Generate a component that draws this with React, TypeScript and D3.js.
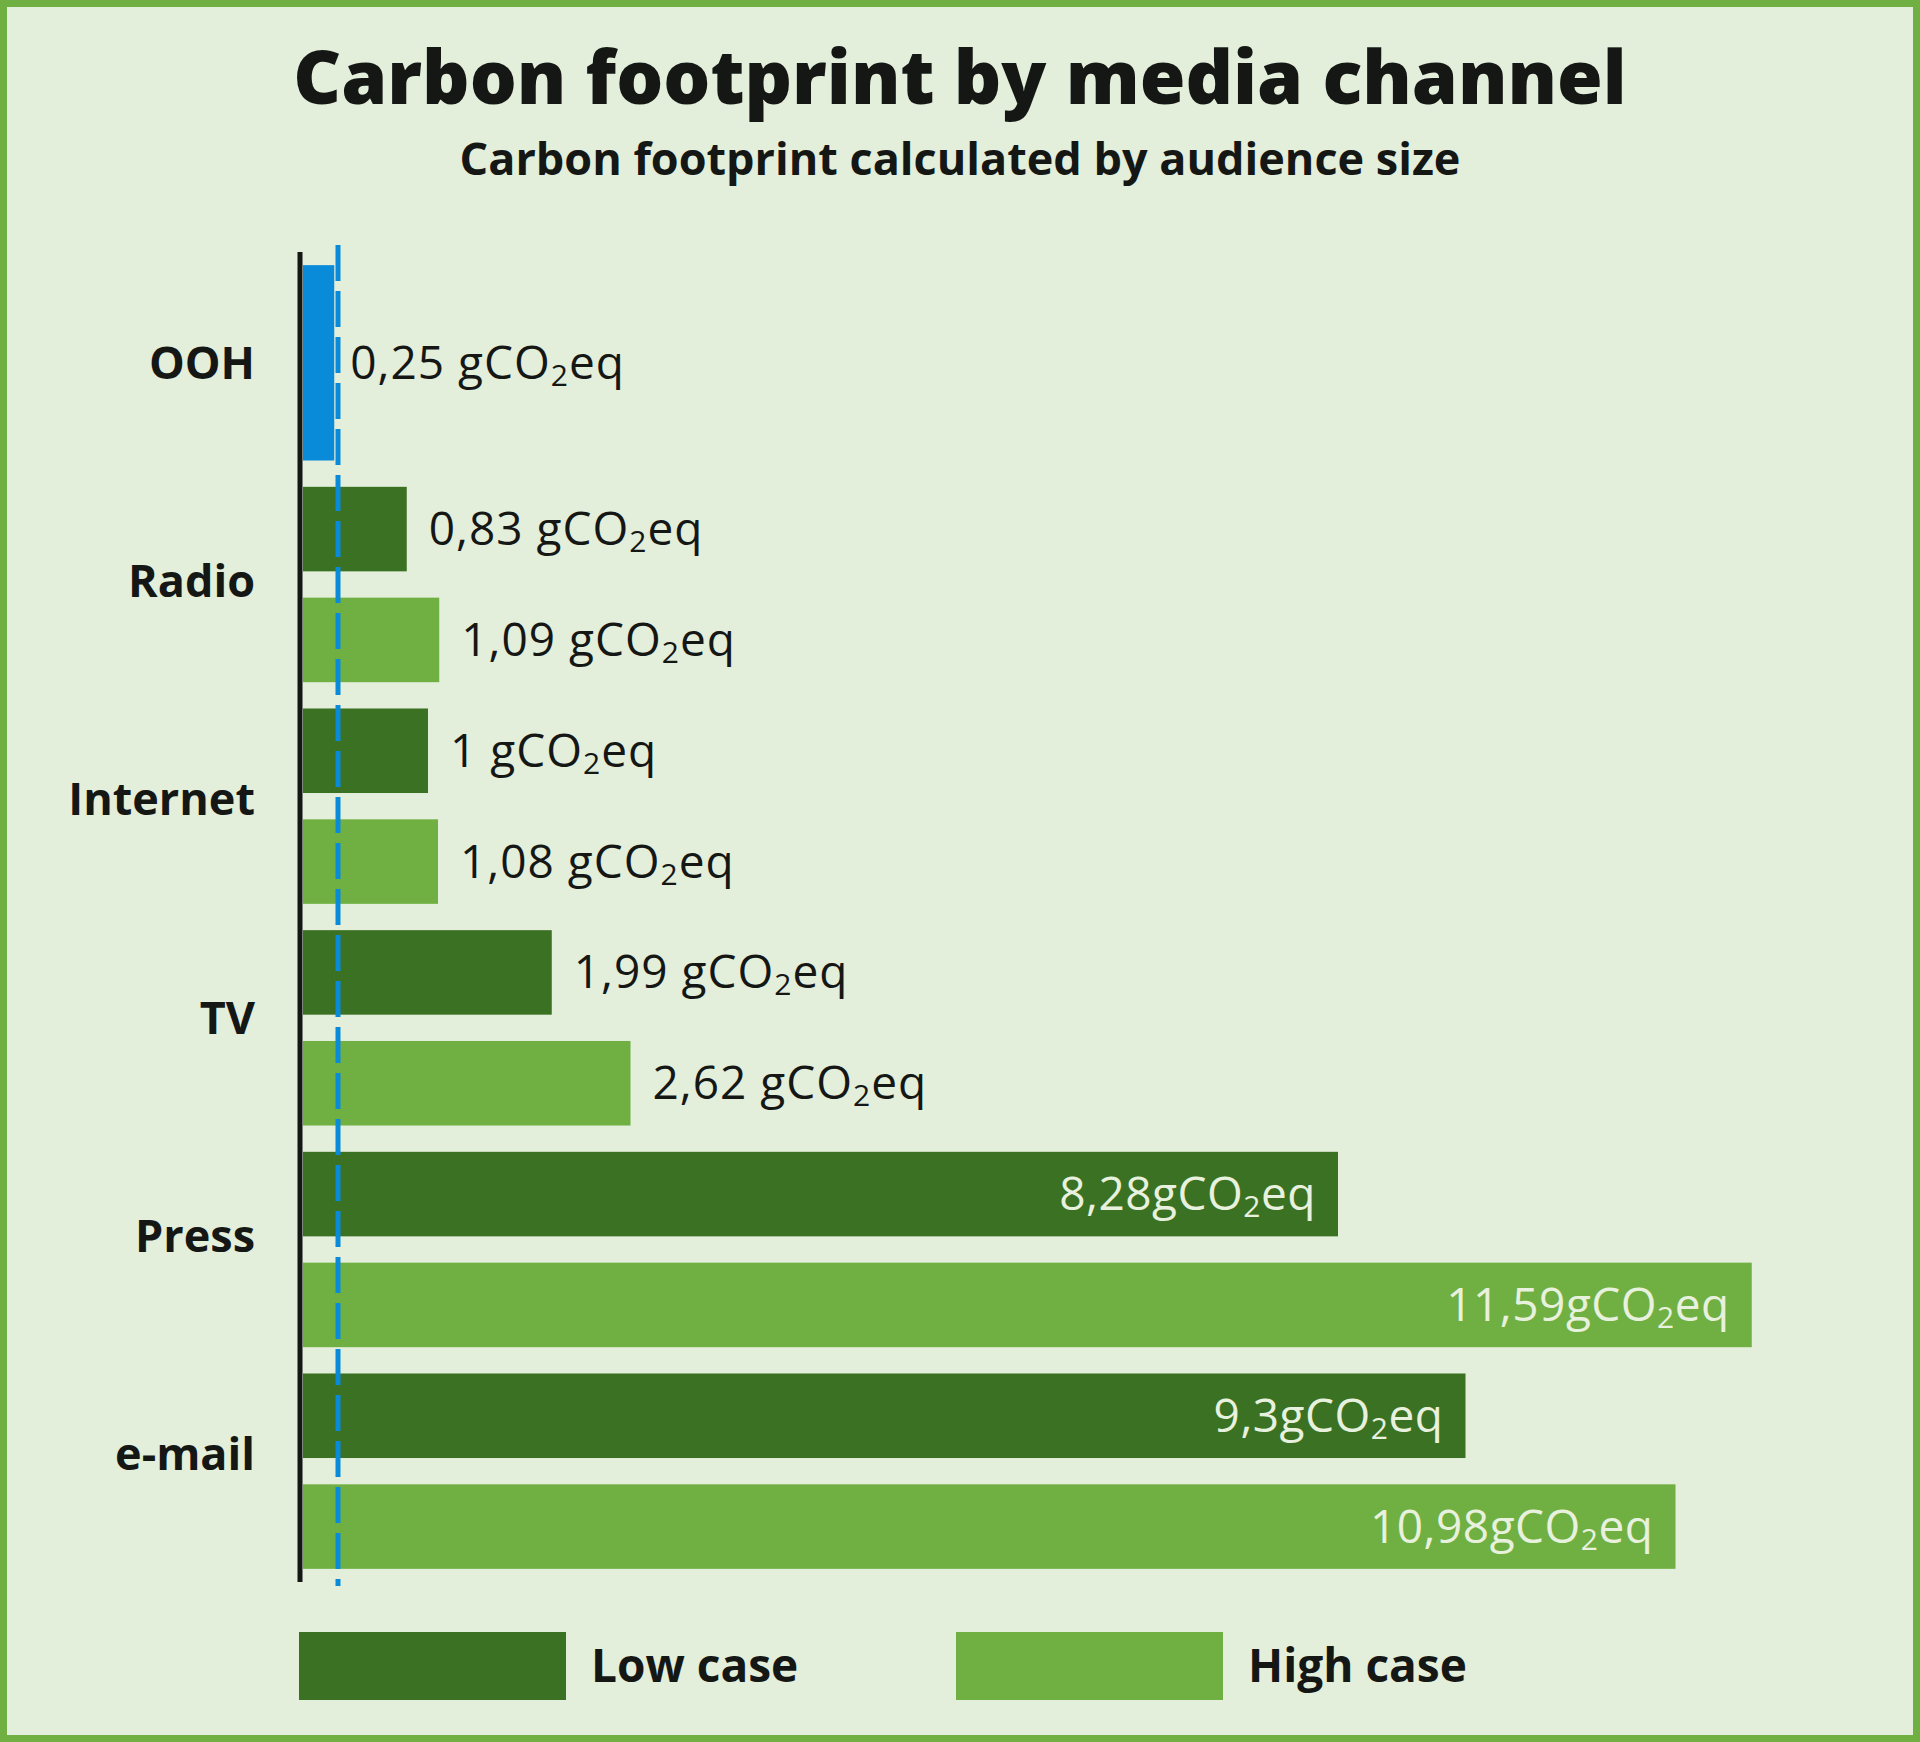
import React from 'react';
import * as d3 from 'd3';

// media channels, top to bottom
const channels = ['OOH', 'Radio', 'Internet', 'TV', 'Press', 'e-mail'];
// gCO2eq per contact
const lowCase = [0.25, 0.83, 1, 1.99, 8.28, 9.3];
const highCase: (number | null)[] = [null, 1.09, 1.08, 2.62, 11.59, 10.98];
const cases = ['low', 'high'];
const caseLabels = ['Low case', 'High case'];
const benchmark = 0.28; // dashed reference line (OOH level)

const W = 1920;
const H = 1742;
const BG = '#e3eedb';
const DARK = '#3a7123';
const LIGHT = '#70b042';
const BLUE = '#0a8bd9';
const INK = '#151715';
const FONT = '"Open Sans", Lato, sans-serif';

const fmt = (v: number) => String(v).replace('.', ',');

const Value: React.FC<{ x: number; y: number; v: number; inside: boolean }> = ({ x, y, v, inside }) => (
  <text
    x={x}
    y={y}
    fontFamily={FONT}
    fontSize={46}
    letterSpacing={inside ? 0.5 : 1}
    fill={inside ? '#e8f1de' : INK}
    textAnchor={inside ? 'end' : 'start'}
  >
    {fmt(v) + (inside ? '' : ' ') + 'gCO'}
    <tspan fontSize={30} dy={7}>2</tspan>
    <tspan dy={-7}>eq</tspan>
  </text>
);

export default function App() {
  const x = d3.scaleLinear().domain([0, 12]).range([303, 1803]);
  const y = d3.scaleBand<string>().domain(channels).range([252, 1582]).padding(0);
  const inner = d3.scaleBand<string>().domain(cases).range([0, y.bandwidth()])
    .paddingInner(0.2374).paddingOuter(0.1187);
  // channel names sit on a slightly tighter pitch than the bar groups
  const labelY = d3.scalePoint<string>().domain(channels).range([362, 1453]);

  const insideMin = 5;

  return (
    <div style={{ position: 'absolute', left: 0, top: 0 }}>
      <svg width={W} height={H} style={{ display: 'block' }}>
        <rect x={3.5} y={3.5} width={W - 7} height={H - 7} fill={BG} stroke={LIGHT} strokeWidth={7} />

        <text x={W / 2} y={104} textAnchor="middle" fontFamily={FONT} fontWeight={800} fontSize={74} fill={INK}>
          Carbon footprint by media channel
        </text>
        <text x={W / 2} y={175} textAnchor="middle" fontFamily={FONT} fontWeight={700} fontSize={45} fill={INK}>
          Carbon footprint calculated by audience size
        </text>

        {channels.map((c, i) => {
          const g = y(c)!;
          const lo = lowCase[i];
          const hi = highCase[i];
          const yl = g + inner('low')!;
          const yh = g + inner('high')!;
          const bw = inner.bandwidth();
          return (
            <g key={c}>
              <text
                x={255}
                y={labelY(c)! + 17}
                textAnchor="end"
                fontFamily={FONT}
                fontWeight={700}
                fontSize={45}
                fill={INK}
              >
                {c}
              </text>
              {hi == null ? (
                <>
                  <rect x={x(0)} y={yl} width={x(lo) - x(0)} height={yh + bw - yl} fill={BLUE} />
                  <Value x={x(lo) + 16} y={g + y.bandwidth() / 2 + 16} v={lo} inside={false} />
                </>
              ) : (
                <>
                  <rect x={x(0)} y={yl} width={x(lo) - x(0)} height={bw} fill={DARK} />
                  <rect x={x(0)} y={yh} width={x(hi) - x(0)} height={bw} fill={LIGHT} />
                  <Value x={lo > insideMin ? x(lo) - 22 : x(lo) + 22} y={yl + bw / 2 + 16} v={lo} inside={lo > insideMin} />
                  <Value x={hi > insideMin ? x(hi) - 22 : x(hi) + 22} y={yh + bw / 2 + 16} v={hi} inside={hi > insideMin} />
                </>
              )}
            </g>
          );
        })}

        {/* axis */}
        <line x1={x(0) - 3} x2={x(0) - 3} y1={y.range()[0]} y2={y.range()[1]} stroke={INK} strokeWidth={5} />
        {/* benchmark */}
        <line x1={x(benchmark)} x2={x(benchmark)} y1={245} y2={1586} stroke={BLUE} strokeWidth={5} strokeDasharray="36,10" />

        {/* legend */}
        {cases.map((k, i) => (
          <g key={k} transform={`translate(${299 + i * 657},1632)`}>
            <rect width={267} height={68} fill={i === 0 ? DARK : LIGHT} />
            <text x={292} y={50} fontFamily={FONT} fontWeight={700} fontSize={46} fill={INK}>
              {caseLabels[i]}
            </text>
          </g>
        ))}
      </svg>
    </div>
  );
}
